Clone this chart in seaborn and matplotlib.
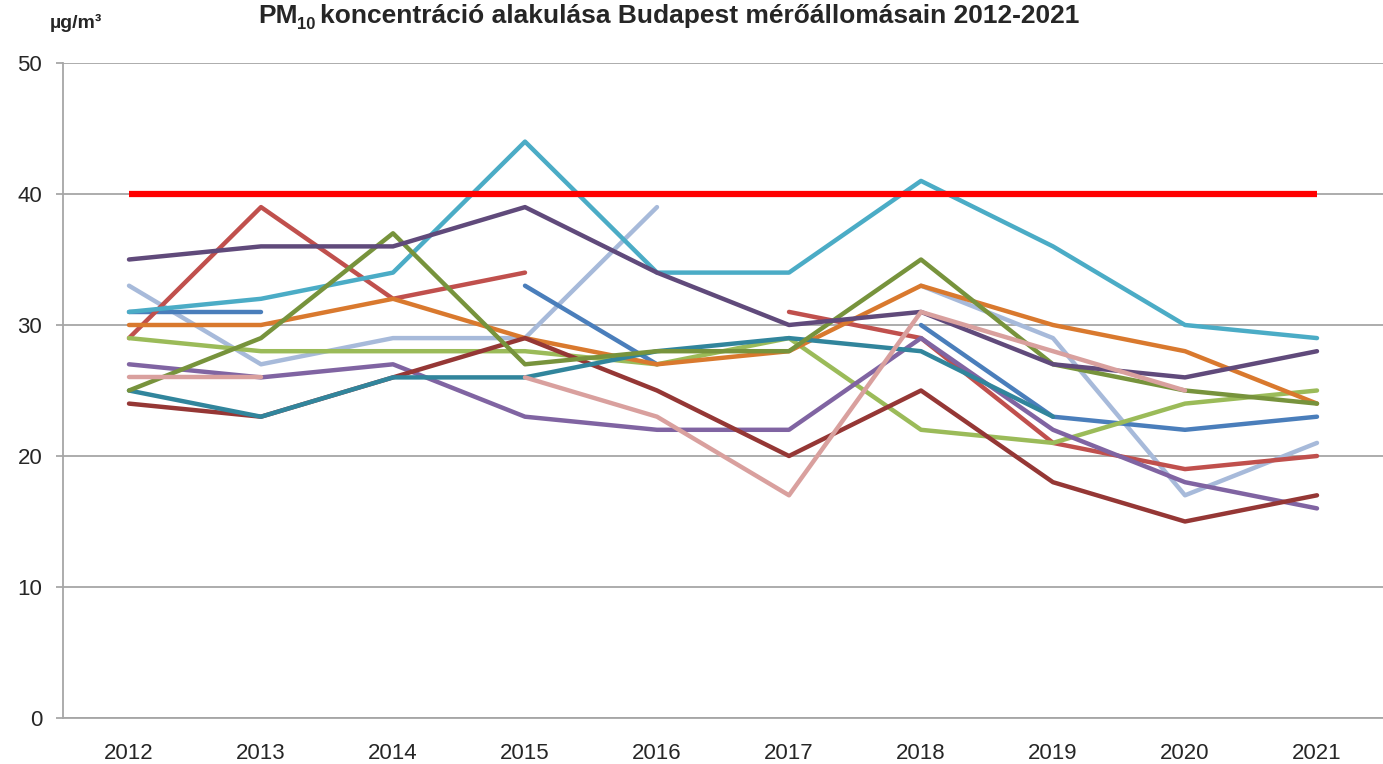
import numpy as np
import pandas as pd
import seaborn as sns
import matplotlib.pyplot as plt

years = ["2012", "2013", "2014", "2015", "2016", "2017", "2018", "2019", "2020", "2021"]
nan = np.nan

# PM10 annual means per station (µg/m3)
lightblue = [33, 27, 29, 29, 39, nan, 33, 29, 17, 21]
blue = [31, 31, nan, 33, 27, nan, 30, 23, 22, 23]
red = [29, 39, 32, 34, nan, 31, 29, 21, 19, 20]
lightgreen = [29, 28, 28, 28, 27, 29, 22, 21, 24, 25]
purple = [27, 26, 27, 23, 22, 22, 29, 22, 18, 16]
aqua = [31, 32, 34, 44, 34, 34, 41, 36, 30, 29]
orange = [30, 30, 32, 29, 27, 28, 33, 30, 28, 24]
darkred = [24, 23, 26, 29, 25, 20, 25, 18, 15, 17]
darkteal = [25, 23, 26, 26, 28, 29, 28, 23, nan, nan]
olive = [25, 29, 37, 27, 28, 28, 35, 27, 25, 24]
darkpurple = [35, 36, 36, 39, 34, 30, 31, 27, 26, 28]
pink = [26, 26, nan, 26, 23, 17, 31, 28, 25, nan]
limit_value = 40

series = {
    "lightblue": (lightblue, "#A7BADA"),
    "blue": (blue, "#4A7EBB"),
    "red": (red, "#C0504D"),
    "lightgreen": (lightgreen, "#9BBB59"),
    "purple": (purple, "#8064A2"),
    "aqua": (aqua, "#4BACC6"),
    "orange": (orange, "#D9792E"),
    "darkred": (darkred, "#953735"),
    "darkteal": (darkteal, "#31859C"),
    "olive": (olive, "#77933C"),
    "darkpurple": (darkpurple, "#604A7B"),
    "pink": (pink, "#D9A09E"),
}

# long table, split at gaps so lines break where data is missing
rows = []
for name, (vals, _) in series.items():
    seg = 0
    for i, v in enumerate(vals):
        if np.isnan(v):
            seg += 1
            continue
        rows.append({"station": name, "seg": seg, "x": i, "value": v})
df = pd.DataFrame(rows)
palette = {name: c for name, (_, c) in series.items()}

sns.set_style("white")
plt.rcParams["font.family"] = ["Liberation Sans", "DejaVu Sans"]

fig = plt.figure(figsize=(13.83, 7.64), dpi=100)
ax = fig.add_axes([63 / 1383, 46 / 764, 1 - 63 / 1383, (718 - 63) / 764])

sns.lineplot(data=df, x="x", y="value", hue="station", units="seg", estimator=None,
             palette=palette, hue_order=list(series.keys()), linewidth=3.2,
             legend=False, ax=ax)
ax.plot([0, len(years) - 1], [limit_value, limit_value], color="#FF0000", linewidth=4.5,
        solid_capstyle="butt")

ax.set_xlim(-0.5, len(years) - 0.5)
ax.set_ylim(0, 50)
ax.set_yticks(range(0, 51, 10))
ax.set_xticks(range(len(years)))
ax.set_xticklabels(years)
ax.set_xticks(np.arange(-0.5, len(years)), minor=True)
ax.tick_params(axis="x", which="major", length=0, labelsize=16, pad=18)
ax.tick_params(axis="x", which="minor", length=6, width=1.2, color="#A0A0A0", direction="out")
ax.tick_params(axis="y", which="major", length=5, width=1.2, color="#A0A0A0", labelsize=16,
               pad=10, direction="out", left=True)
ax.set_xlabel("")
ax.set_ylabel("")
ax.grid(axis="y", color="#A6A6A6", linewidth=1.3)
ax.set_axisbelow(True)
for s in ["top", "right"]:
    ax.spines[s].set_visible(False)
for s in ["left", "bottom"]:
    ax.spines[s].set_color("#A6A6A6")
    ax.spines[s].set_linewidth(1.3)

# title with a real subscript, built from three text pieces
title_y = 1 - 23 / 764
t1 = fig.text(258 / 1383, title_y, "PM", ha="left", va="baseline", fontsize=19,
              fontweight="bold")
fig.canvas.draw()
bb = t1.get_window_extent()
t2 = fig.text(bb.x1 / 1383, title_y - 6 / 764, "10", ha="left", va="baseline",
              fontsize=12, fontweight="bold")
fig.canvas.draw()
bb2 = t2.get_window_extent()
fig.text(bb2.x1 / 1383 + 4 / 1383, title_y,
         "koncentráció alakulása Budapest mérőállomásain 2012-2021",
         ha="left", va="baseline", fontsize=19, fontweight="bold")
fig.text(50 / 1383, 1 - 28 / 764, "µg/m³", ha="left", va="baseline", fontsize=14,
         fontweight="bold")

fig.savefig("out.png", dpi=100)
